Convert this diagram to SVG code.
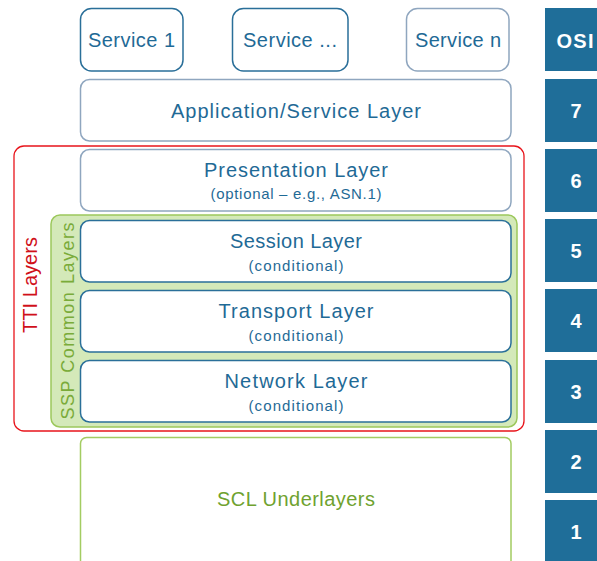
<svg xmlns="http://www.w3.org/2000/svg" width="597" height="561" viewBox="0 0 597 561">
<style>
text{font-family:"Liberation Sans","Open Sans",sans-serif;text-anchor:middle}
.box{fill:#fff;stroke-width:1.5}
.dark{stroke:#2a6f99}
.grey{stroke:#8fa6bf}
.t{fill:#1f6a96;font-size:20px}
.s{fill:#1f6a96;font-size:15px}
.osi rect{fill:#1f6e99}
.osi text{fill:#fff;font-size:20px;font-weight:bold}
</style>
<rect width="597" height="561" fill="#fff"/>
<g id="tti">
<rect x="14" y="146" width="510" height="285" rx="10" fill="none" stroke="#e8141b" stroke-width="1.3"/>
<text transform="translate(37,285) rotate(-90)" fill="#d0101a" font-size="20" textLength="96" lengthAdjust="spacing">TTI Layers</text>
</g>
<g id="ssp">
<rect x="51" y="215" width="466" height="212" rx="9" fill="#d4e9b9" stroke="#9cc85c" stroke-width="1.5"/>
<text transform="translate(74,321) rotate(-90)" fill="#7aab3a" font-size="18" textLength="197" lengthAdjust="spacing">SSP Common Layers</text>
</g>
<g id="service1"><rect class="box dark" x="80.5" y="8.5" width="102.5" height="62.5" rx="11"/><text class="t" x="131.5" y="47" font-size="19" textLength="87" lengthAdjust="spacing">Service 1</text></g>
<g id="serviceDots"><rect class="box dark" x="232.5" y="8.5" width="115.5" height="62.5" rx="11"/><text class="t" x="290" y="47" font-size="19" textLength="94" lengthAdjust="spacing">Service ...</text></g>
<g id="serviceN"><rect class="box grey" x="406.5" y="8.5" width="102.5" height="62.5" rx="11"/><text class="t" x="458" y="47" font-size="19" textLength="86" lengthAdjust="spacing">Service n</text></g>
<g id="application"><rect class="box grey" x="80.5" y="79.5" width="430.5" height="61.5" rx="9"/><text class="t" x="296" y="118" textLength="250" lengthAdjust="spacing">Application/Service Layer</text></g>
<g id="presentation"><rect class="box grey" x="80.5" y="149.5" width="430.5" height="61.5" rx="9"/><text class="t" x="296" y="177" textLength="184" lengthAdjust="spacing">Presentation Layer</text><text class="s" x="296" y="199" textLength="171" lengthAdjust="spacing">(optional – e.g., ASN.1)</text></g>
<g id="session"><rect class="box dark" x="80.5" y="220.5" width="430.5" height="61.5" rx="9"/><text class="t" x="296" y="248" textLength="132" lengthAdjust="spacing">Session Layer</text><text class="s" x="296" y="271" textLength="95" lengthAdjust="spacing">(conditional)</text></g>
<g id="transport"><rect class="box dark" x="80.5" y="290.5" width="430.5" height="61.5" rx="9"/><text class="t" x="296" y="318" textLength="155" lengthAdjust="spacing">Transport Layer</text><text class="s" x="296" y="341" textLength="95" lengthAdjust="spacing">(conditional)</text></g>
<g id="network"><rect class="box dark" x="80.5" y="360.5" width="430.5" height="61.5" rx="9"/><text class="t" x="296" y="388" textLength="143" lengthAdjust="spacing">Network Layer</text><text class="s" x="296" y="411" textLength="95" lengthAdjust="spacing">(conditional)</text></g>
<g id="scl"><rect class="box" x="80.5" y="437.5" width="430.5" height="130" rx="6" stroke="#a3cc62"/><text x="296" y="506" fill="#6fa22f" font-size="20" textLength="158" lengthAdjust="spacing">SCL Underlayers</text></g>
<g id="osi" class="osi">
<rect x="545" y="8" width="52" height="63"/><text x="575" y="48" textLength="37" lengthAdjust="spacing">OSI</text>
<rect x="545" y="79" width="52" height="63"/><text x="576" y="118">7</text>
<rect x="545" y="149" width="52" height="63"/><text x="576" y="188">6</text>
<rect x="545" y="219" width="52" height="63"/><text x="576" y="258">5</text>
<rect x="545" y="289" width="52" height="63"/><text x="576" y="328">4</text>
<rect x="545" y="360" width="52" height="63"/><text x="576" y="399">3</text>
<rect x="545" y="430" width="52" height="63"/><text x="576" y="469">2</text>
<rect x="545" y="500" width="52" height="61"/><text x="576" y="539">1</text>
</g>
<g id="connectors"/>
</svg>
